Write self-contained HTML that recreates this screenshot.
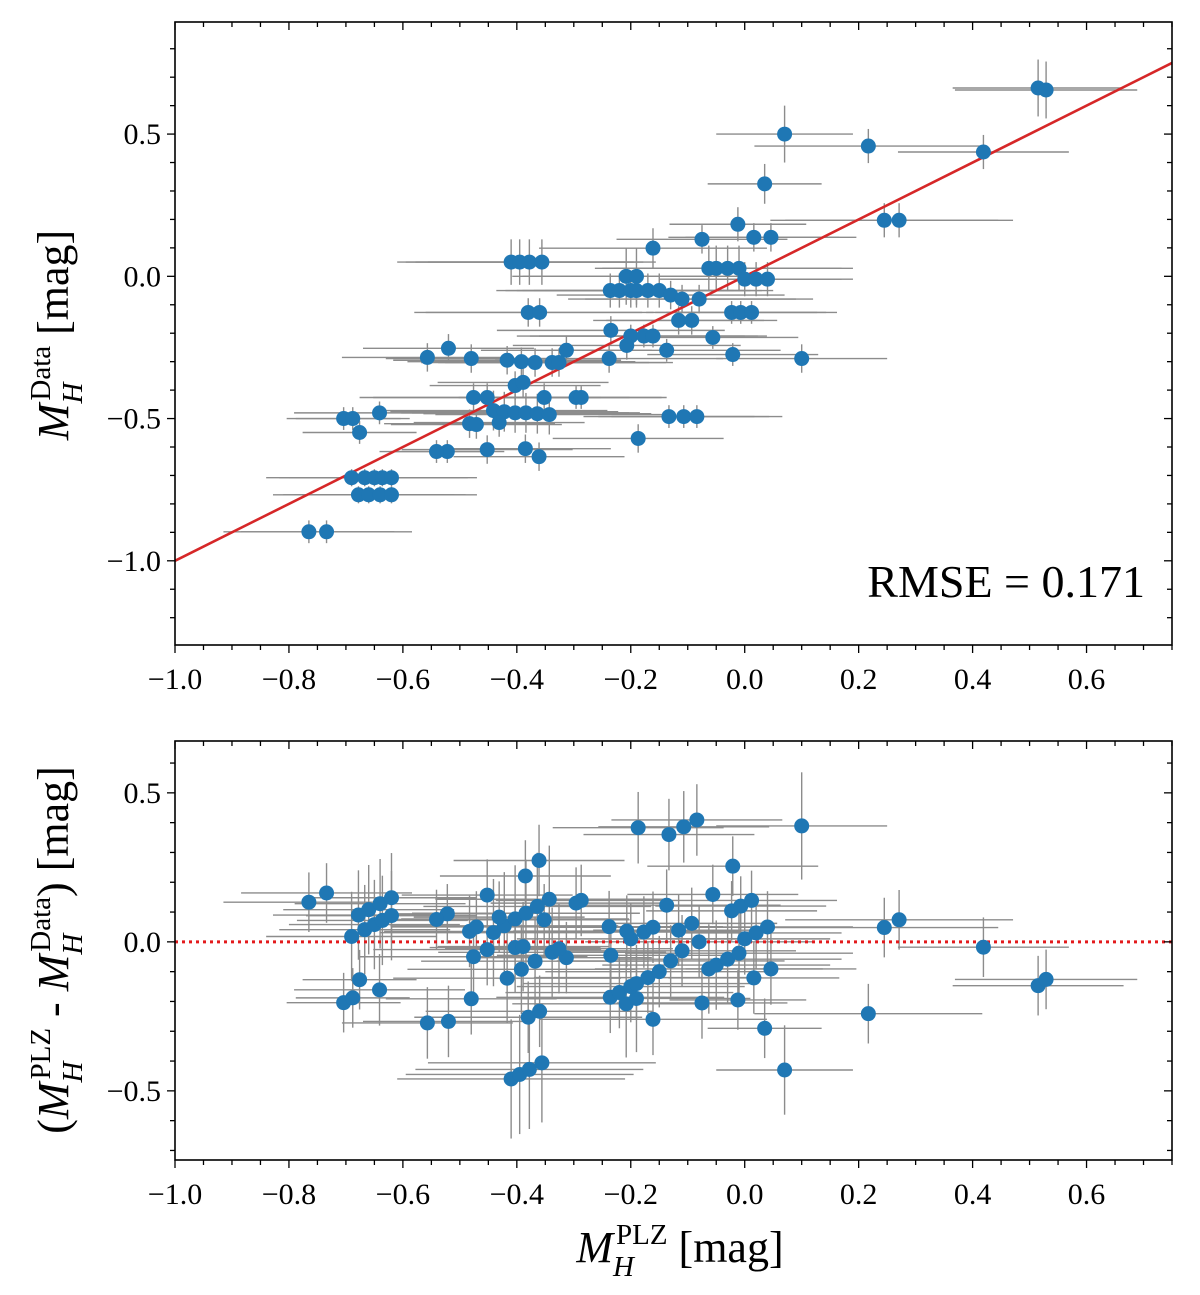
<!DOCTYPE html>
<html><head><meta charset="utf-8"><style>
body{margin:0;background:#fff;}
svg{display:block;font-family:"Liberation Serif",serif;}
</style></head><body>
<svg id="fig" width="1200" height="1295" viewBox="0 0 1200 1295" xmlns="http://www.w3.org/2000/svg">
<g id="errs"></g><g id="marks"></g><g id="axes"></g>
<text x="1145" y="597" font-size="46" text-anchor="end">RMSE = 0.171</text>
<text transform="translate(68,335) rotate(-90)" font-size="44" text-anchor="middle"><tspan font-style="italic">M</tspan><tspan font-size="29" font-style="italic" dy="14">H</tspan><tspan font-size="29" dx="-18" dy="-32">Data</tspan><tspan dy="18"> [mag]</tspan></text>
<text transform="translate(68,950) rotate(-90)" font-size="44" text-anchor="middle">(<tspan font-style="italic">M</tspan><tspan font-size="29" font-style="italic" dy="14">H</tspan><tspan font-size="29" dx="-18" dy="-32">PLZ</tspan><tspan dy="18"> - </tspan><tspan font-style="italic">M</tspan><tspan font-size="29" font-style="italic" dy="14">H</tspan><tspan font-size="29" dx="-18" dy="-32">Data</tspan><tspan dy="18">) [mag]</tspan></text>
<text x="680" y="1262" font-size="44" text-anchor="middle"><tspan font-style="italic">M</tspan><tspan font-size="29" font-style="italic" dy="14">H</tspan><tspan font-size="29" dx="-18" dy="-32">PLZ</tspan><tspan dy="18"> [mag]</tspan></text>
</svg>
<script>
const xs=[0.515,0.529,0.419,0.07,0.217,0.035,0.245,0.271,-0.012,-0.075,0.016,0.046,-0.161,-0.063,-0.05,-0.03,-0.01,0.0,0.02,0.04,-0.208,-0.19,-0.41,-0.395,-0.378,-0.356,-0.236,-0.22,-0.2,-0.19,-0.17,-0.15,-0.13,-0.11,-0.08,-0.023,-0.007,0.012,-0.38,-0.36,-0.116,-0.093,-0.235,-0.2,-0.177,-0.161,-0.056,-0.207,-0.137,-0.021,0.1,-0.557,-0.52,-0.48,-0.417,-0.392,-0.368,-0.313,-0.338,-0.326,-0.238,-0.403,-0.389,-0.476,-0.452,-0.352,-0.296,-0.287,-0.441,-0.422,-0.403,-0.384,-0.364,-0.343,-0.483,-0.471,-0.431,-0.385,-0.361,-0.452,-0.522,-0.541,-0.187,-0.133,-0.107,-0.084,-0.704,-0.688,-0.641,-0.676,-0.69,-0.667,-0.65,-0.636,-0.62,-0.678,-0.66,-0.64,-0.62,-0.765,-0.734];
const ys=[0.662,0.655,0.437,0.5,0.458,0.325,0.197,0.197,0.183,0.13,0.137,0.137,0.099,0.028,0.028,0.028,0.028,-0.01,-0.01,-0.01,0.0,0.0,0.05,0.05,0.05,0.05,-0.05,-0.05,-0.05,-0.05,-0.05,-0.05,-0.066,-0.08,-0.08,-0.127,-0.127,-0.127,-0.127,-0.127,-0.155,-0.155,-0.19,-0.21,-0.21,-0.21,-0.215,-0.243,-0.26,-0.275,-0.289,-0.285,-0.253,-0.289,-0.295,-0.3,-0.303,-0.26,-0.303,-0.303,-0.289,-0.384,-0.373,-0.426,-0.426,-0.426,-0.426,-0.426,-0.472,-0.476,-0.48,-0.48,-0.483,-0.486,-0.518,-0.521,-0.514,-0.606,-0.634,-0.609,-0.616,-0.616,-0.57,-0.493,-0.493,-0.493,-0.5,-0.5,-0.48,-0.549,-0.708,-0.708,-0.708,-0.708,-0.708,-0.768,-0.768,-0.768,-0.768,-0.898,-0.898];
const xErr=[0.15,0.16,0.15,0.12,0.2,0.1,0.2,0.2,0.12,0.15,0.15,0.15,0.2,0.2,0.2,0.2,0.2,0.15,0.15,0.15,0.2,0.2,0.2,0.2,0.2,0.2,0.2,0.2,0.2,0.2,0.2,0.2,0.2,0.2,0.2,0.15,0.15,0.15,0.2,0.2,0.15,0.15,0.2,0.2,0.2,0.2,0.15,0.2,0.2,0.15,0.15,0.15,0.15,0.15,0.2,0.2,0.2,0.15,0.2,0.2,0.2,0.15,0.15,0.2,0.2,0.15,0.15,0.15,0.2,0.2,0.2,0.2,0.2,0.2,0.15,0.15,0.15,0.15,0.15,0.15,0.1,0.1,0.15,0.15,0.15,0.15,0.1,0.1,0.15,0.1,0.15,0.15,0.15,0.15,0.15,0.15,0.15,0.15,0.15,0.15,0.15];
const yErr=[0.1,0.1,0.06,0.1,0.06,0.07,0.06,0.06,0.06,0.05,0.05,0.05,0.07,0.08,0.08,0.08,0.08,0.06,0.06,0.06,0.1,0.1,0.08,0.08,0.08,0.08,0.06,0.06,0.06,0.06,0.06,0.06,0.05,0.05,0.05,0.04,0.04,0.04,0.05,0.05,0.05,0.05,0.05,0.04,0.04,0.04,0.04,0.05,0.04,0.04,0.05,0.05,0.05,0.05,0.05,0.05,0.05,0.05,0.05,0.05,0.05,0.05,0.05,0.05,0.05,0.05,0.04,0.04,0.07,0.07,0.07,0.07,0.07,0.07,0.05,0.05,0.05,0.05,0.05,0.05,0.04,0.04,0.05,0.04,0.04,0.04,0.04,0.04,0.04,0.04,0.03,0.03,0.03,0.03,0.03,0.03,0.03,0.03,0.03,0.04,0.04];
const resErr=[0.1,0.1,0.1,0.15,0.1,0.1,0.1,0.1,0.1,0.12,0.12,0.12,0.12,0.15,0.15,0.15,0.15,0.12,0.12,0.12,0.18,0.18,0.2,0.2,0.2,0.2,0.12,0.12,0.12,0.12,0.12,0.12,0.12,0.12,0.12,0.1,0.1,0.1,0.12,0.12,0.12,0.12,0.12,0.12,0.12,0.12,0.1,0.12,0.12,0.1,0.18,0.12,0.12,0.12,0.15,0.15,0.15,0.12,0.15,0.15,0.12,0.15,0.15,0.12,0.12,0.12,0.12,0.12,0.18,0.18,0.18,0.18,0.18,0.18,0.12,0.12,0.12,0.12,0.12,0.12,0.1,0.1,0.12,0.12,0.12,0.12,0.1,0.1,0.12,0.1,0.15,0.15,0.15,0.15,0.15,0.15,0.15,0.15,0.15,0.1,0.1];
const xTicks=[-1.0,-0.8,-0.6,-0.4,-0.2,0.0,0.2,0.4,0.6];
const topYTicks=[-1.0,-0.5,0.0,0.5];
const botYTicks=[-0.5,0.0,0.5];
const NS='http://www.w3.org/2000/svg';
const L=175,R=1172;
const X=v=>L+(v+1.0)/1.75*(R-L);
const T={top:22,bot:645,min:-1.296,max:0.894};
const B={top:741,bot:1160,min:-0.732,max:0.674};
const Y=(p,v)=>p.bot-(v-p.min)/(p.max-p.min)*(p.bot-p.top);
function mk(tag,attrs,parent){const e=document.createElementNS(NS,tag);for(const k in attrs)e.setAttribute(k,attrs[k]);parent.appendChild(e);return e;}
const errs=document.getElementById('errs'),marks=document.getElementById('marks'),axes=document.getElementById('axes');
const fmt=v=>(v<0?'\u2212':'')+Math.abs(v).toFixed(1);
function drawAxes(p,yt,name){
  const f=mk('rect',{x:L,y:p.top,width:R-L,height:p.bot-p.top,fill:'none',stroke:'#000','stroke-width':1.6},axes);
  
  
  for(let v=-1.0;v<=0.751;v+=0.05){const x=X(v);const maj=Math.abs(Math.round(v*100)%20)<1e-6;const len=maj?8:5;
    mk('line',{x1:x,x2:x,y1:p.bot,y2:p.bot+len,stroke:'#000','stroke-width':1.3},axes);
    mk('line',{x1:x,x2:x,y1:p.top,y2:p.top+len,stroke:'#000','stroke-width':1.3},axes);}
  for(let k=Math.ceil(p.min*10);k<=Math.floor(p.max*10);k++){const v=k/10;const y=Y(p,v);const maj=k%5===0;const len=maj?8:5;
    mk('line',{x1:L,x2:L-len,y1:y,y2:y,stroke:'#000','stroke-width':1.3},axes);
    mk('line',{x1:R,x2:R-len,y1:y,y2:y,stroke:'#000','stroke-width':1.3},axes);}
  xTicks.forEach(v=>{const t=mk('text',{x:X(v),y:p.bot+44,'font-size':30,'text-anchor':'middle'},axes);t.textContent=fmt(v);
    
    });
  yt.forEach(v=>{const t=mk('text',{x:L-14,y:Y(p,v)+10,'font-size':30,'text-anchor':'end'},axes);t.textContent=fmt(v);
    
    });
}
for(let i=0;i<xs.length;i++){
  const x=X(xs[i]),y=Y(T,ys[i]);
  mk('line',{x1:X(xs[i]-xErr[i]),x2:X(xs[i]+xErr[i]),y1:y,y2:y,stroke:'#8c8c8c','stroke-width':1.4},errs);
  mk('line',{x1:x,x2:x,y1:Y(T,ys[i]-yErr[i]),y2:Y(T,ys[i]+yErr[i]),stroke:'#8c8c8c','stroke-width':1.4},errs);
  const r=xs[i]-ys[i];const yb=Y(B,r);
  mk('line',{x1:X(xs[i]-xErr[i]),x2:X(xs[i]+xErr[i]),y1:yb,y2:yb,stroke:'#8c8c8c','stroke-width':1.4},errs);
  mk('line',{x1:x,x2:x,y1:Y(B,r-resErr[i]),y2:Y(B,r+resErr[i]),stroke:'#8c8c8c','stroke-width':1.4},errs);
}
const ln=mk('line',{x1:X(-1.0),y1:Y(T,-1.0),x2:X(0.75),y2:Y(T,0.75),stroke:'#d62728','stroke-width':2.6},marks);


const zl=mk('line',{x1:L,x2:R,y1:Y(B,0),y2:Y(B,0),stroke:'#e31a1c','stroke-width':3,'stroke-dasharray':'3,4'},marks);


for(let i=0;i<xs.length;i++){
  const c=mk('circle',{cx:X(xs[i]),cy:Y(T,ys[i]),r:7.5,fill:'#1f77b4'},marks);
  
  
  const c2=mk('circle',{cx:X(xs[i]),cy:Y(B,xs[i]-ys[i]),r:7.5,fill:'#1f77b4'},marks);
  
  
}
drawAxes(T,topYTicks,'top-panel');
drawAxes(B,botYTicks,'bottom-panel');
</script>
</body></html>
